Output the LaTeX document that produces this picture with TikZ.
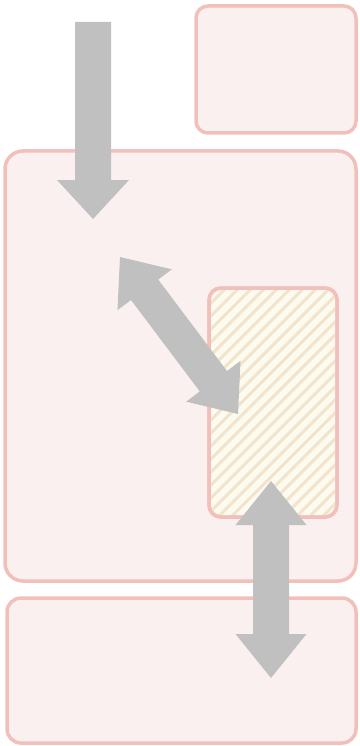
\documentclass[tikz,border=0pt]{standalone}
\usetikzlibrary{calc}
\definecolor{boxfill}{HTML}{FBF0F0}
\definecolor{boxline}{HTML}{F2C0BB}
\definecolor{hatchbg}{HTML}{FDFBF0}
\definecolor{hatchln}{HTML}{F2E4CC}
\definecolor{arrgray}{HTML}{C0C0C0}
\tikzset{
  box/.style={draw=boxline, fill=boxfill, line width=3.5pt, rounded corners=#1, inner sep=0pt},
  box/.default=14pt,
  blockarrow/.style={fill=arrgray, draw=none},
}
\begin{document}
\begin{tikzpicture}[x=1pt,y=-1pt]
\useasboundingbox (0,0) rectangle (359,746);
% boxes
\node[box=12pt, minimum width=160pt, minimum height=127pt] (tr) at (276,69.5) {};
\node[box=18pt, minimum width=351pt, minimum height=430pt] (main) at (180.5,366) {};
\node[box=14pt, minimum width=349pt, minimum height=145pt] (bot) at (181.5,670.5) {};
% hatched box
\node[box=12pt, fill=hatchbg, minimum width=128pt, minimum height=229pt] (hb) at (273,402.5) {};
\begin{scope}
  \clip[rounded corners=11pt] (211,290) rectangle (335,515);
  \foreach \x in {-120,-107,...,360} {
    \draw[hatchln, line width=3pt] (\x,530) -- (\x+260,270);
  }
\end{scope}
\node[draw=boxline, line width=3.5pt, rounded corners=12pt, minimum width=128pt, minimum height=229pt, inner sep=0pt] at (hb) {};
% arrow 1 (single, down)
\coordinate (a1s) at (93,22);
\coordinate (a1e) at (93,219);
\coordinate (a1b) at ($(a1e)!39pt!(a1s)$);
\fill[blockarrow] ($(a1s)!18pt!90:(a1e)$) -- ($(a1b)!18pt!-90:(a1s)$) -- ($(a1b)!36pt!-90:(a1s)$) -- (a1e)
  -- ($(a1b)!36pt!90:(a1s)$) -- ($(a1b)!18pt!90:(a1s)$) -- ($(a1s)!18pt!-90:(a1e)$) -- cycle;
% arrow 2 (double, diagonal)
\coordinate (a2s) at (120,257);
\coordinate (a2e) at (238,414);
\coordinate (a2a) at ($(a2s)!41pt!(a2e)$);
\coordinate (a2b) at ($(a2e)!41pt!(a2s)$);
\fill[blockarrow] (a2s) -- ($(a2a)!34pt!90:(a2e)$) -- ($(a2a)!17pt!90:(a2e)$) -- ($(a2b)!17pt!-90:(a2s)$)
  -- ($(a2b)!34pt!-90:(a2s)$) -- (a2e) -- ($(a2b)!34pt!90:(a2s)$) -- ($(a2b)!17pt!90:(a2s)$)
  -- ($(a2a)!17pt!-90:(a2e)$) -- ($(a2a)!34pt!-90:(a2e)$) -- cycle;
% arrow 3 (double, vertical)
\coordinate (a3s) at (271,481);
\coordinate (a3e) at (271,678);
\coordinate (a3a) at ($(a3s)!44pt!(a3e)$);
\coordinate (a3b) at ($(a3e)!44pt!(a3s)$);
\fill[blockarrow] (a3s) -- ($(a3a)!35.5pt!90:(a3e)$) -- ($(a3a)!18pt!90:(a3e)$) -- ($(a3b)!18pt!-90:(a3s)$)
  -- ($(a3b)!35.5pt!-90:(a3s)$) -- (a3e) -- ($(a3b)!35.5pt!90:(a3s)$) -- ($(a3b)!18pt!90:(a3s)$)
  -- ($(a3a)!18pt!-90:(a3e)$) -- ($(a3a)!35.5pt!-90:(a3e)$) -- cycle;
\end{tikzpicture}
\end{document}
